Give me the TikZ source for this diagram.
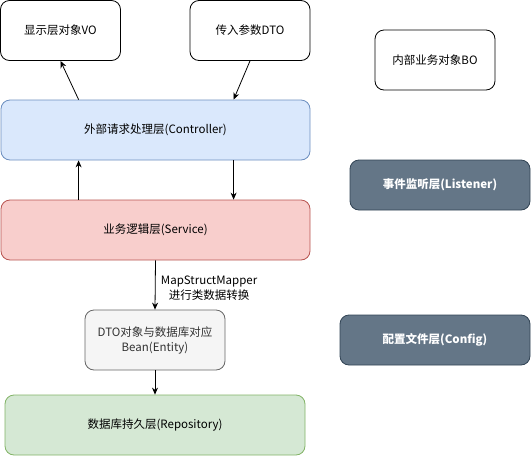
\documentclass[tikz,border=0pt]{standalone}
\usepackage{fontspec}
\setmainfont{Noto Sans CJK SC}
\usetikzlibrary{arrows.meta}
\definecolor{ctrlfill}{HTML}{DAE8FC}\definecolor{ctrldraw}{HTML}{6C8EBF}
\definecolor{servfill}{HTML}{F8CECC}\definecolor{servdraw}{HTML}{B85450}
\definecolor{repofill}{HTML}{D5E8D4}\definecolor{repodraw}{HTML}{82B366}
\definecolor{entfill}{HTML}{F5F5F5}\definecolor{entdraw}{HTML}{666666}\definecolor{enttext}{HTML}{333333}
\definecolor{darkfill}{HTML}{647687}\definecolor{darkdraw}{HTML}{314354}
\tikzset{
  box/.style={draw=black, rounded corners=9pt, inner sep=0pt, align=center,
    font=\fontsize{11.5}{15}\selectfont, line width=0.8pt},
  darkbox/.style={box, fill=darkfill, draw=darkdraw, text=white, font=\fontsize{11.5}{15}\selectfont\bfseries},
  arr/.style={-{Stealth[length=7pt,width=6pt]}, line width=0.8pt, black},
}
\begin{document}
\begin{tikzpicture}[x=1pt,y=-1pt]
\useasboundingbox (0,0) rectangle (531,456);
\node[box, minimum width=120pt, minimum height=60pt] (vo) at (60.5,30.5) {显示层对象VO};
\node[box, minimum width=120pt, minimum height=60pt] (dto) at (250,30.5) {传入参数DTO};
\node[box, minimum width=120pt, minimum height=60pt] (bo) at (435,60) {内部业务对象BO};
\node[box, fill=ctrlfill, draw=ctrldraw, minimum width=309pt, minimum height=60pt] (ctrl) at (155.5,130) {外部请求处理层(Controller)};
\node[darkbox, minimum width=180pt, minimum height=50pt] (lis) at (440,185) {事件监听层(Listener)};
\node[box, fill=servfill, draw=servdraw, minimum width=309pt, minimum height=60pt] (serv) at (155.5,230) {业务逻辑层(Service)};
\node[box, fill=entfill, draw=entdraw, text=enttext, minimum width=140pt, minimum height=60pt] (ent) at (155,340) {DTO对象与数据库对应\\Bean(Entity)};
\node[darkbox, minimum width=190pt, minimum height=50pt] (cfg) at (435,340) {配置文件层(Config)};
\node[box, fill=repofill, draw=repodraw, minimum width=300pt, minimum height=60pt] (repo) at (155,425) {数据库持久层(Repository)};
\draw[arr] ([xshift=78pt]ctrl.north west) -- (vo.south);
\draw[arr] (dto.south) -- ([xshift=233pt]ctrl.north west);
\draw[arr] ([xshift=78pt]serv.north west) -- ([xshift=78pt]ctrl.south west);
\draw[arr] ([xshift=233pt]ctrl.south west) -- ([xshift=233pt]serv.north west);
\draw[arr] (serv.south) -- node[right, xshift=2pt, yshift=-3pt, align=center, font=\fontsize{11.5}{15}\selectfont] (lbl) {MapStructMapper\\进行类数据转换} (ent.north);
\draw[arr] (ent.south) -- (repo.north);
\end{tikzpicture}
\end{document}
